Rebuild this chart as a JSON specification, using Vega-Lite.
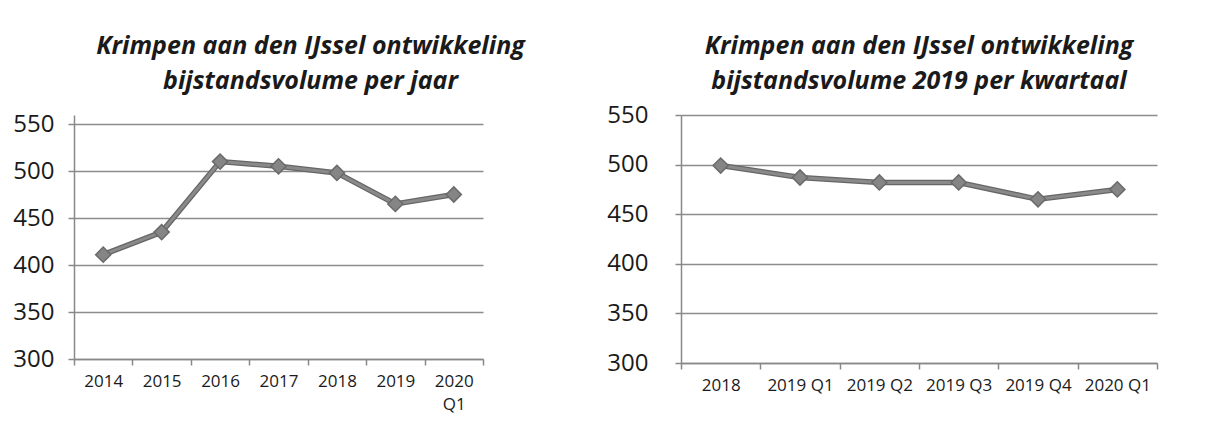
{
  "$schema": "https://vega.github.io/schema/vega-lite/v6.json",
  "padding": {"left": 12, "top": 34, "right": 5, "bottom": 5},
  "background": "white",
  "spacing": 81,
  "config": {
    "view": {"stroke": null},
    "font": "Open Sans",
    "title": {"font": "Open Sans", "fontSize": 25, "fontStyle": "italic", "fontWeight": "bold", "color": "#1a1a1a", "lineHeight": 35, "anchor": "middle"},
    "axis": {"labelFont": "Open Sans", "labelColor": "#1a1a1a", "domainColor": "#888888", "tickColor": "#888888", "gridColor": "#8c8c8c", "gridWidth": 1.5, "domainWidth": 1.5, "tickWidth": 1.5, "tickSize": 6, "title": null}
  },
  "datasets": {
    "jaar": [
      {"periode": "2014", "volume": 411},
      {"periode": "2015", "volume": 435},
      {"periode": "2016", "volume": 510},
      {"periode": "2017", "volume": 505},
      {"periode": "2018", "volume": 498},
      {"periode": "2019", "volume": 465},
      {"periode": "2020 Q1", "volume": 475}
    ],
    "kwartaal": [
      {"periode": "2018", "volume": 499},
      {"periode": "2019 Q1", "volume": 487},
      {"periode": "2019 Q2", "volume": 482},
      {"periode": "2019 Q3", "volume": 482},
      {"periode": "2019 Q4", "volume": 465},
      {"periode": "2020 Q1", "volume": 475}
    ]
  },
  "hconcat": [
    {
      "title": {"text": ["Krimpen aan den IJssel ontwikkeling", "bijstandsvolume per jaar"], "offset": 18, "dx": 32},
      "width": 409,
      "height": 244,
      "data": {"name": "jaar"},
      "encoding": {
        "x": {"field": "periode", "type": "ordinal", "sort": null,
              "scale": {"type": "band", "paddingInner": 0, "paddingOuter": 0},
              "axis": {"labelAngle": 0, "labelFontSize": 17, "tickBand": "extent", "labelPadding": 8, "domain": true, "grid": false,
                       "labelExpr": "datum.label == '2020 Q1' ? ['2020', 'Q1'] : datum.label", "labelLineHeight": 23}},
        "y": {"field": "volume", "type": "quantitative",
              "scale": {"domain": [300, 559.6], "nice": false, "zero": false},
              "axis": {"values": [300, 350, 400, 450, 500, 550], "labelFontSize": 24, "labelPadding": 14, "grid": true}}
      },
      "layer": [
        {"mark": {"type": "line", "color": "#666666", "strokeWidth": 5.5}},
        {"mark": {"type": "line", "color": "#8a8a8a", "strokeWidth": 3}},
        {"mark": {"type": "point", "shape": "diamond", "filled": true, "size": 230, "fill": "#858585", "stroke": "#6a6a6a", "strokeWidth": 1.5, "opacity": 1}}
      ]
    },
    {
      "title": {"text": ["Krimpen aan den IJssel ontwikkeling", "bijstandsvolume 2019 per kwartaal"], "offset": 9},
      "width": 476,
      "height": 248,
      "data": {"name": "kwartaal"},
      "encoding": {
        "x": {"field": "periode", "type": "ordinal", "sort": null,
              "scale": {"type": "band", "paddingInner": 0, "paddingOuter": 0},
              "axis": {"labelAngle": 0, "labelFontSize": 17, "tickBand": "extent", "labelPadding": 8, "domain": true, "grid": false}},
        "y": {"field": "volume", "type": "quantitative",
              "scale": {"domain": [300, 550], "nice": false, "zero": false},
              "axis": {"values": [300, 350, 400, 450, 500, 550], "labelFontSize": 24, "labelPadding": 27, "grid": true}}
      },
      "layer": [
        {"mark": {"type": "line", "color": "#666666", "strokeWidth": 5.5}},
        {"mark": {"type": "line", "color": "#8a8a8a", "strokeWidth": 3}},
        {"mark": {"type": "point", "shape": "diamond", "filled": true, "size": 230, "fill": "#858585", "stroke": "#6a6a6a", "strokeWidth": 1.5, "opacity": 1}}
      ]
    }
  ]
}
